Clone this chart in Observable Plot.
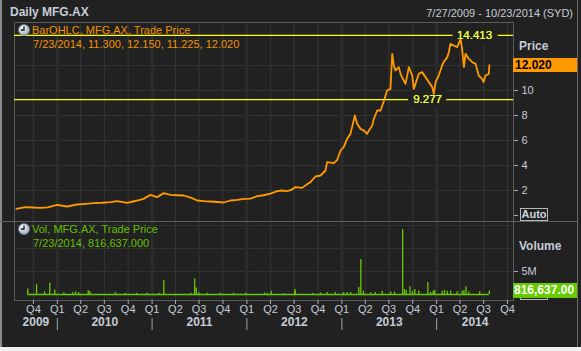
<!DOCTYPE html>
<html><head><meta charset="utf-8">
<script src="https://cdn.jsdelivr.net/npm/d3@7"></script>
<script src="https://cdn.jsdelivr.net/npm/@observablehq/plot@0.6"></script>
<style>
html,body{margin:0;padding:0;background:#f0f0f0;}
#wrap{position:relative;width:581px;height:351px;overflow:hidden;background:#212121;font-family:"Liberation Sans",Arial,sans-serif;}
.abs{position:absolute;white-space:nowrap;}
#price,#vol{position:absolute;left:0;}
#price{top:22px;} #vol{top:221px;}
svg{display:block;}
.lbl{color:#c5cdd8;font-size:12px;font-weight:bold;line-height:14px;}
.auto{position:absolute;width:26px;height:11px;border:1px solid #b8b8b8;color:#d0d6de;font:bold 11px "Liberation Sans",Arial,sans-serif;line-height:11px;text-align:center;}
</style></head><body>
<div id="wrap">
  <div id="price"></div>
  <div id="vol"></div>
  <div class="abs" style="left:0;top:0;width:2px;height:351px;background:#8c8c8c"></div>
  <div class="abs" style="left:577px;top:0;width:1px;height:347px;background:#6a6a6a"></div>
  <div class="abs" style="left:0;top:347px;width:581px;height:4px;background:#f0f0f0"></div>
  <div class="abs" style="left:0;top:221px;width:577px;height:1px;background:#5e5e5e"></div>

  <div class="abs" style="left:10px;top:5px;font-size:12px;font-weight:bold;line-height:15px;color:#c5cdd8">Daily MFG.AX</div>
  <div class="abs" style="right:8px;top:6px;font-size:11px;line-height:14px;color:#c5cdd8">7/27/2009 - 10/23/2014 (SYD)</div>

  <svg class="abs" style="left:18px;top:24px" width="12" height="12"><defs><radialGradient id="g1" cx="40%" cy="35%" r="70%"><stop offset="0" stop-color="#ffffff"/><stop offset="1" stop-color="#8fa6bd"/></radialGradient></defs><circle cx="6" cy="6" r="5.5" fill="url(#g1)" stroke="#6d7f92" stroke-width="0.8"/><path d="M6 2.5V6H3" stroke="#111" stroke-width="1.3" fill="none"/></svg>
  <div class="abs" style="left:32px;top:23px;font-size:11px;line-height:14px;color:#f39200">BarOHLC, MFG.AX, Trade Price</div>
  <div class="abs" style="left:33px;top:37px;font-size:11px;line-height:14px;color:#f39200">7/23/2014, 11.300, 12.150, 11.225, 12.020</div>

  <svg class="abs" style="left:18px;top:223px" width="12" height="12"><defs><radialGradient id="g2" cx="40%" cy="35%" r="70%"><stop offset="0" stop-color="#ffffff"/><stop offset="1" stop-color="#8fa6bd"/></radialGradient></defs><circle cx="6" cy="6" r="5.5" fill="url(#g2)" stroke="#6d7f92" stroke-width="0.8"/><path d="M6 2.5V6H3" stroke="#111" stroke-width="1.3" fill="none"/></svg>
  <div class="abs" style="left:32px;top:222px;font-size:11px;line-height:14px;color:#62c000">Vol, MFG.AX, Trade Price</div>
  <div class="abs" style="left:33px;top:236px;font-size:11px;line-height:14px;color:#62c000">7/23/2014, 816,637.000</div>

  <div class="abs lbl" style="left:519px;top:39px">Price</div>
  <div class="abs lbl" style="left:519px;top:239px">Volume</div>
  <div class="auto" style="left:520px;top:208px">Auto</div>
  <div class="auto" style="left:520px;top:287px"></div>
  <div id="pbox" class="abs" style="left:513px;width:64px;height:14px;background:#ff9900;color:#000;font-size:12px;font-weight:bold;line-height:14px;padding-left:2px;box-sizing:border-box">12.020</div>
  <div id="vbox" class="abs" style="left:513px;width:64px;height:15px;background:#66cc00;color:#fff;font-size:12px;font-weight:bold;line-height:15px;padding-left:1px;box-sizing:border-box">816,637.00</div>
</div>
<script>
// ---- data ----
const pricePoints = [
  ["2009-07-27",0.53],["2009-08-31",0.67],["2009-09-28",0.64],["2009-10-28",0.61],["2009-11-25",0.65],
  ["2009-12-31",0.85],["2010-02-08",0.72],["2010-03-18",0.88],["2010-04-20",0.93],["2010-05-21",0.99],
  ["2010-06-22",1.02],["2010-07-25",1.07],["2010-08-19",1.15],["2010-09-27",1.01],["2010-10-15",1.10],
  ["2010-11-04",1.20],["2010-11-29",1.33],["2010-12-26",1.65],["2011-01-20",1.47],["2011-02-15",1.79],
  ["2011-03-13",1.65],["2011-04-09",1.62],["2011-05-03",1.60],["2011-06-04",1.39],["2011-06-24",1.20],
  ["2011-07-20",1.15],["2011-08-14",1.12],["2011-09-10",1.08],["2011-10-04",1.04],["2011-10-30",1.20],
  ["2011-11-26",1.25],["2011-12-20",1.33],["2012-01-15",1.35],["2012-02-10",1.55],["2012-03-06",1.62],
  ["2012-04-01",1.75],["2012-04-27",1.95],["2012-05-15",2.00],["2012-06-04",1.95],["2012-06-20",2.05],
  ["2012-07-06",2.27],["2012-08-01",2.21],["2012-08-20",2.50],["2012-09-02",2.67],["2012-09-21",3.12],
  ["2012-10-11",3.20],["2012-10-30",3.60],["2012-11-05",4.27],["2012-12-01",4.19],["2012-12-14",4.45],
  ["2012-12-27",5.20],["2013-01-08",5.47],["2013-01-21",6.13],["2013-02-03",6.53],["2013-02-20",8.00],
  ["2013-03-01",7.33],["2013-03-14",6.93],["2013-03-26",6.80],["2013-04-08",6.53],["2013-04-15",6.80],
  ["2013-04-28",7.20],["2013-05-04",7.73],["2013-05-17",8.40],["2013-05-30",8.40],["2013-06-11",9.10],
  ["2013-06-24",10.00],["2013-07-07",10.13],["2013-07-14",12.93],["2013-07-20",12.00],["2013-07-26",11.60],
  ["2013-08-08",11.87],["2013-08-15",11.33],["2013-08-27",10.80],["2013-09-03",10.53],["2013-09-16",11.87],
  ["2013-09-29",11.20],["2013-10-05",10.13],["2013-10-18",10.93],["2013-10-24",11.33],["2013-11-06",11.47],
  ["2013-11-19",11.07],["2013-12-02",10.67],["2013-12-15",10.27],["2013-12-21",9.73],["2013-12-28",10.67],
  ["2014-01-09",11.20],["2014-01-22",12.00],["2014-01-28",12.27],["2014-02-11",12.67],["2014-02-17",13.07],
  ["2014-02-23",13.73],["2014-03-08",13.60],["2014-03-21",13.47],["2014-04-03",14.13],["2014-04-09",13.33],
  ["2014-04-16",11.87],["2014-04-22",12.93],["2014-05-05",12.53],["2014-05-18",12.27],["2014-05-31",12.13],
  ["2014-06-12",11.20],["2014-06-25",10.93],["2014-07-01",10.67],["2014-07-08",11.20],["2014-07-21",11.33],
  ["2014-07-23",12.02]
];
// volume in millions
const volumePoints = [
  ["2009-09-09",1.2],["2009-10-13",2.15],["2009-11-13",0.6],["2009-12-03",2.45],["2009-12-22",1.0],
  ["2010-01-26",0.4],["2010-03-01",0.4],["2010-03-12",0.6],["2010-03-24",0.4],["2010-04-30",0.85],
  ["2010-05-07",0.6],["2010-08-13",0.4],["2010-09-20",0.25],["2010-11-02",0.25],["2010-12-13",0.3],
  ["2011-01-27",0.25],["2011-02-15",3.0],["2011-05-30",0.3],["2011-06-14",3.4],["2011-06-20",1.4],
  ["2011-06-30",0.4],["2011-08-01",0.3],["2011-09-21",0.3],["2011-11-11",0.3],["2011-12-27",0.3],
  ["2012-03-09",0.3],["2012-03-19",0.3],["2012-04-04",0.7],["2012-05-22",0.15],["2012-07-04",1.1],
  ["2012-07-06",0.7],["2012-09-10",0.25],["2012-10-11",0.3],["2012-11-05",0.45],["2012-12-07",0.45],
  ["2013-01-08",0.45],["2013-01-21",0.45],["2013-02-04",0.45],["2013-03-07",1.5],["2013-03-15",7.6],
  ["2013-03-25",0.7],["2013-04-22",0.4],["2013-05-10",0.45],["2013-06-05",0.7],["2013-07-08",0.55],
  ["2013-07-23",0.55],["2013-08-23",14.1],["2013-08-30",1.1],["2013-09-06",0.9],["2013-09-20",1.7],
  ["2013-09-30",0.7],["2013-10-09",1.1],["2013-10-24",0.7],["2013-11-28",2.6],["2013-12-09",0.45],
  ["2013-12-19",0.7],["2013-12-24",0.9],["2014-01-22",0.7],["2014-01-31",0.9],["2014-02-11",0.7],
  ["2014-02-24",0.7],["2014-03-21",0.6],["2014-04-09",0.7],["2014-04-16",0.9],["2014-04-24",1.7],
  ["2014-05-05",0.55],["2014-06-16",0.6],["2014-07-23",0.817]
];
const refValues = [14.413, 9.277];
const refLabelDates = ["2014-05-27", "2013-11-27"];
const priceTicks = [0, 2, 4, 6, 8, 10, 12];
const priceTickLabels = ["", "2", "4", "6", "8", "10", ""];   // 0 -> "Auto" box, 12 -> under last-price box
const volumeTicks = [0, 5];
const volumeTickLabels = ["", "5M"];
const volumeGrid = [5, 10, 15];
const lastClose = 12.02;
const lastVolume = 0.816637;

// ---- build ----
const price = pricePoints.map(([d, v]) => ({date: new Date(d), close: v}));
const volume = volumePoints.map(([d, v]) => ({date: new Date(d), vol: v}));
const refs = refValues.map((v, i) => ({value: v, date: new Date(refLabelDates[i])}));
const xDomain = [new Date("2009-07-20"), new Date("2014-10-24")];
const quarterTicks = d3.utcMonth.every(3).range(new Date("2009-10-01"), new Date("2014-10-02"));
const yearStarts = d3.utcYear.range(new Date("2010-01-01"), new Date("2014-01-02"));
const years = d3.range(2009, 2015).map(y => {
  const a = Math.max(+new Date(Date.UTC(y, 0, 1)), +xDomain[0]);
  const b = Math.min(+new Date(Date.UTC(y + 1, 0, 1)), +xDomain[1]);
  return {label: String(y), mid: new Date((a + b) / 2)};
});
const W = 581, ML = 14, MR = 68;
const FONT = "Liberation Sans, Arial, sans-serif";
const GRID = "#323232";
const ORANGE = "#ff9900", GREEN = "#66cc00", TXT = "#c5cdd8";
const commonStyle = {background: "transparent", color: TXT, fontFamily: FONT, fontSize: "11px", overflow: "visible"};

const pricePlot = Plot.plot({
  width: W, height: 199, marginLeft: ML, marginRight: MR, marginTop: 0, marginBottom: 0,
  style: commonStyle,
  x: {type: "utc", domain: xDomain, axis: null},
  y: {domain: [-0.48, 15.44], label: null},
  marks: [
    Plot.gridY(priceTicks.filter(d => d > 0), {stroke: GRID, strokeOpacity: 1}),
    Plot.gridX(quarterTicks, {stroke: GRID, strokeOpacity: 1, strokeWidth: 1.2}),
    Plot.gridX(yearStarts, {stroke: "#2c2c2c", strokeOpacity: 1, strokeWidth: 3}),
    Plot.frame({stroke: "#5a5a5a"}),
    Plot.ruleY(refs, {y: "value", stroke: "#ffff00", strokeWidth: 1.3}),
    Plot.text(refs, {x: "date", y: "value", text: d => d.value.toFixed(3), fill: "#e8ff3a", stroke: "#212121", strokeWidth: 12, paintOrder: "stroke", fontSize: 11.5}),
    Plot.line(price, {x: "date", y: "close", stroke: ORANGE, strokeWidth: 1.8}),
    Plot.text(refs, {x: "date", y: "value", text: d => d.value.toFixed(3), fill: "#e8ff3a", fontSize: 11.5}),
    Plot.axisY(priceTicks, {anchor: "right", label: null, tickSize: 4, tickPadding: 4, tickFormat: d => priceTickLabels[priceTicks.indexOf(d)], stroke: "#aab", fill: TXT, fontSize: 11})
  ]
});
document.getElementById("price").appendChild(pricePlot);

const volPlot = Plot.plot({
  width: W, height: 130, marginLeft: ML, marginRight: MR, marginTop: 0, marginBottom: 51,
  style: commonStyle,
  x: {type: "utc", domain: xDomain, label: null},
  y: {domain: [-1.30, 15.87], label: null},
  marks: [
    Plot.gridY(volumeGrid, {stroke: GRID, strokeOpacity: 1}),
    Plot.gridX(quarterTicks, {stroke: GRID, strokeOpacity: 1, strokeWidth: 1.2}),
    Plot.gridX(yearStarts, {stroke: "#2c2c2c", strokeOpacity: 1, strokeWidth: 3}),
    Plot.frame({stroke: "#5a5a5a"}),
    Plot.ruleY([0], {x1: volume[0].date, x2: volume[volume.length - 1].date, stroke: GREEN, strokeWidth: 1.6}),
    Plot.ruleX(volume, {x: "date", y1: 0, y2: "vol", stroke: GREEN, strokeWidth: 1.3}),
    Plot.axisY(volumeTicks, {anchor: "right", label: null, tickSize: 4, tickPadding: 4, tickFormat: d => volumeTickLabels[volumeTicks.indexOf(d)], stroke: "#aab", fill: TXT, fontSize: 11}),
    Plot.axisX(quarterTicks, {anchor: "bottom", label: null, tickSize: 4, tickPadding: 1, tickFormat: d => "Q" + (Math.floor(d.getUTCMonth() / 3) + 1), stroke: "#aab", fill: TXT, fontSize: 11}),
    Plot.text(years, {x: "mid", text: "label", frameAnchor: "bottom", dy: 25.5, fontWeight: "bold", fontSize: 12, fill: TXT}),
    // year separators below the quarter labels (frame-height rule shifted down and inset)
    Plot.ruleX(yearStarts, {x: d => d, dy: 30, insetTop: 67, stroke: "#9aa3ad", strokeWidth: 1})
  ]
});
document.getElementById("vol").appendChild(volPlot);

// value boxes positioned with the scales
const pY = pricePlot.scale("y").apply(lastClose) + 22;
document.getElementById("pbox").style.top = (pY - 7) + "px";
const vY = volPlot.scale("y").apply(lastVolume) + 221;
document.getElementById("vbox").style.top = (vY - 7.5) + "px";
</script>
</body></html>
